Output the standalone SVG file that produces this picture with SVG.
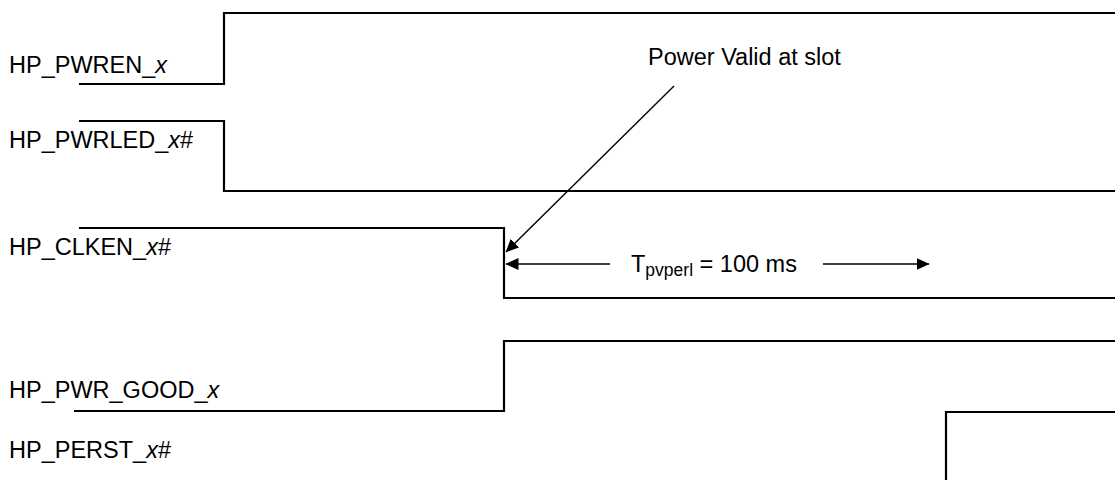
<svg xmlns="http://www.w3.org/2000/svg" width="1115" height="480" viewBox="0 0 1115 480">
<style>
.sig{fill:none;stroke:#000;stroke-width:2.2}
.lbl{font-family:"Liberation Sans",Arial,sans-serif;font-size:23.5px;fill:#000}
.ann{fill:none;stroke:#000;stroke-width:1.4}
</style>
<defs>
<marker id="ah" markerWidth="13" markerHeight="12" refX="12.5" refY="6" orient="auto" markerUnits="userSpaceOnUse">
<path d="M0,0 L13,6 L0,12 Z" fill="#000"/>
</marker>
</defs>
<rect width="1115" height="480" fill="#fff"/>
<g id="hp_pwren">
<text class="lbl" x="9" y="73">HP_PWREN_<tspan font-style="italic">x</tspan></text>
<path class="sig" d="M79,84 H224 V13 H1115"/>
</g>
<g id="hp_pwrled">
<text class="lbl" x="9" y="148">HP_PWRLED_<tspan font-style="italic">x</tspan>#</text>
<path class="sig" d="M79,121 H224 V191 H1115"/>
</g>
<g id="hp_clken">
<text class="lbl" x="9" y="255">HP_CLKEN_<tspan font-style="italic">x</tspan>#</text>
<path class="sig" d="M79,228 H504 V298 H1115"/>
</g>
<g id="hp_pwr_good">
<text class="lbl" x="9" y="398">HP_PWR_GOOD_<tspan font-style="italic">x</tspan></text>
<path class="sig" d="M74,411 H504 V341 H1115"/>
</g>
<g id="hp_perst">
<text class="lbl" x="9" y="458">HP_PERST_<tspan font-style="italic">x</tspan>#</text>
<path class="sig" d="M946,480 V412 H1115"/>
</g>
<g id="power_valid">
<text class="lbl" x="648" y="65">Power Valid at slot</text>
</g>
<g id="tpvperl">
<text class="lbl" x="631" y="272">T<tspan font-size="17.5" dy="4">pvperl</tspan><tspan dy="-4"> = 100 ms</tspan></text>
</g>
<g id="connectors">
<line class="ann" x1="674" y1="86" x2="506" y2="252" marker-end="url(#ah)"/>
<line class="ann" x1="610" y1="264" x2="506" y2="264" marker-end="url(#ah)"/>
<line class="ann" x1="823" y1="264" x2="929" y2="264" marker-end="url(#ah)"/>
</g>
</svg>
